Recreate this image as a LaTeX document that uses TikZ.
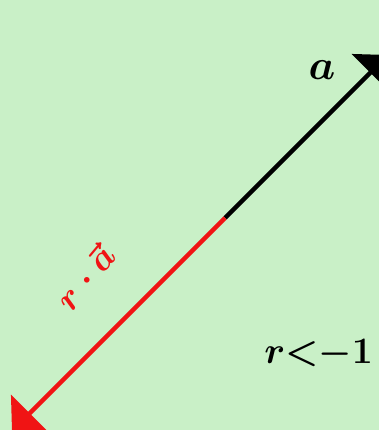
\documentclass[tikz,border=0pt]{standalone}
\usetikzlibrary{arrows.meta}
\definecolor{bggreen}{RGB}{201,240,199}
\definecolor{vecred}{RGB}{240,20,20}
\begin{document}
\begin{tikzpicture}[x=1pt,y=-1pt,
  vecline/.style={line width=4.5pt,-{Triangle[length=25pt,width=52pt]}},
  hand/.style={inner sep=0pt,font=\Huge\boldmath}]
\fill[bggreen] (0,0) rectangle (379,430);
\useasboundingbox (0,0) rectangle (379,430);
\coordinate (o) at (225,218);
\coordinate (A) at (388,55);
\coordinate (B) at (12,431);
\draw[vecline,black] (o) -- (A);
\draw[vecline,vecred] (o) -- (B);
\node[hand,scale=1.7] (la) at (322,70) {$a$};
\node[hand,text=vecred,rotate=50,scale=1.45] (lra) at (85,277) {$r\cdot\vec{a}$};
\node[hand,anchor=west,scale=1.5] (lr) at (264,354) {$r{<}{-}1$};
\end{tikzpicture}
\end{document}
